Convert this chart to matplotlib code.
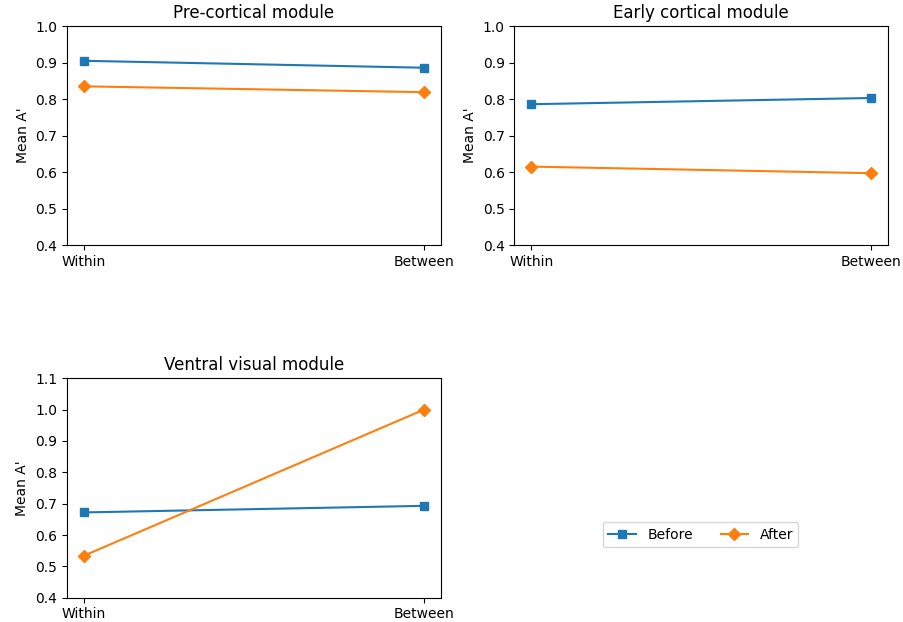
import matplotlib
matplotlib.use('Agg')
from matplotlib import pyplot as plt

conditions = ['Within', 'Between']
titles = ['Pre-cortical module', 'Early cortical module', 'Ventral visual module']
before = [[0.905, 0.886], [0.786, 0.803], [0.672, 0.693]]
after = [[0.835, 0.819], [0.615, 0.597], [0.534, 1.0]]
ylims = [(0.4, 1.0), (0.4, 1.0), (0.4, 1.1)]

fig = plt.figure(figsize=(9.04, 6.22), dpi=100)

# axes positions
boxes = [
    [0.074, 0.606, 0.414, 0.352],
    [0.569, 0.606, 0.413, 0.352],
    [0.074, 0.039, 0.414, 0.353],
]

x = list(range(len(conditions)))
for i in range(3):
    ax = fig.add_axes(boxes[i])
    ax.plot(x, before[i], color='#1f77b4', marker='s', label='Before')
    ax.plot(x, after[i], color='#ff7f0e', marker='D', label='After')
    ax.set_title(titles[i])
    ax.set_ylabel("Mean A'")
    ax.set_ylim(*ylims[i])
    ax.set_xticks(x)
    ax.set_xticklabels(conditions)

handles, labels = ax.get_legend_handles_labels()
fig.legend(handles, labels, loc='center', bbox_to_anchor=(0.775, 0.140), ncol=2)

fig.savefig('out.png', dpi=100)
